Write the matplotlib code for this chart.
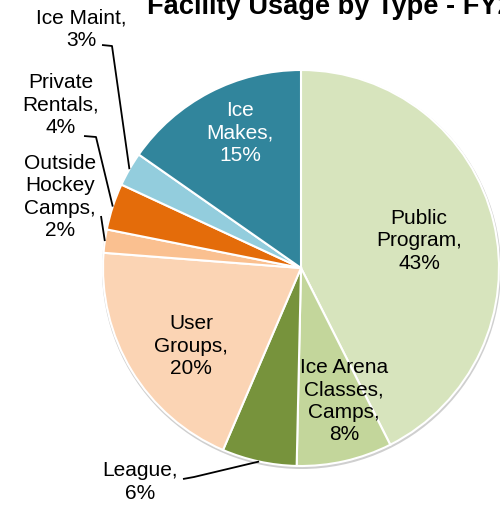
import numpy as np
import matplotlib
matplotlib.use('Agg')  # no display
import matplotlib.pyplot as plt
from matplotlib.patches import Circle

# Slice data, clockwise from 12 o'clock
CATEGORIES = ["Public\nProgram", "Ice Arena\nClasses,\nCamps", "League", "User\nGroups",
              "Outside\nHockey\nCamps", "Private\nRentals", "Ice Maint", "Ice\nMakes"]
VALUES = [42.6, 7.8, 6.1, 19.8, 1.9, 3.8, 2.8, 15.3]
COLORS = ["#D7E4BD", "#C3D69B", "#77933C", "#FBD4B4",
          "#FAC090", "#E46C0A", "#93CDDD", "#31859C"]
TITLE = "Facility Usage by Type - FY2019"

W, H = 500, 505
CENTER = (301, 268)   # pixel coords, y from top
RADIUS = 198

# label placement (pixel coords, y from top); leader = (tick start, elbow) or None
LABEL_POS = {
    0: ((419, 241), None, "black"),
    1: ((344, 401), None, "black"),
    2: ((140, 482), ((183, 479), (194, 477)), "black"),
    3: ((191, 346), None, "black"),
    4: ((60, 197), ((101, 216), (101, 216)), "black"),
    5: ((61, 105), ((84, 136), (96, 137)), "black"),
    6: ((81, 29), ((102, 45), (112, 46)), "black"),
    7: ((240, 133), None, "white"),
}


def px(x, y):
    return x, H - y


plt.rcParams['font.family'] = ['Liberation Sans', 'DejaVu Sans']

fig = plt.figure(figsize=(W / 100, H / 100), dpi=100)
ax = fig.add_axes([0, 0, 1, 1])

cx, cy = px(*CENTER)

# faint shadow ring like the Excel chart
ax.add_patch(Circle((cx + 0.5, cy - 1.5), RADIUS + 1.5, facecolor='#cfcfcf',
                    edgecolor='none', zorder=0))

wedges, _ = ax.pie(VALUES, colors=COLORS, startangle=90, counterclock=False,
                   center=(cx, cy), radius=RADIUS, frame=True,
                   wedgeprops=dict(edgecolor='white', linewidth=1.5))
ax.set_xlim(0, W)
ax.set_ylim(0, H)
ax.set_aspect('equal')
ax.axis('off')

total = sum(VALUES)
for i, (name, val, w) in enumerate(zip(CATEGORIES, VALUES, wedges)):
    label = f"{name},\n{round(val / total * 100)}%"
    (lx, ly), leader, col = LABEL_POS[i]
    ax.text(*px(lx, ly), label, ha='center', va='center', fontsize=15,
            color=col, linespacing=1.24, zorder=5)
    if leader is not None:
        mid = np.deg2rad((w.theta1 + w.theta2) / 2)
        ex, ey = cx + RADIUS * np.cos(mid), cy + RADIUS * np.sin(mid)
        (sx, sy), (bx, by) = leader
        sx, sy = px(sx, sy)
        bx, by = px(bx, by)
        ax.plot([sx, bx, ex], [sy, by, ey], color='black',
                lw=1.3, zorder=4, solid_capstyle='butt')

# title runs off the right edge, as in the source image
fig.text(147 / W, 1 - 13.5 / H, TITLE, ha='left', va='baseline',
         fontsize=19.6, fontweight='bold')

fig.savefig('out.png', dpi=100)
